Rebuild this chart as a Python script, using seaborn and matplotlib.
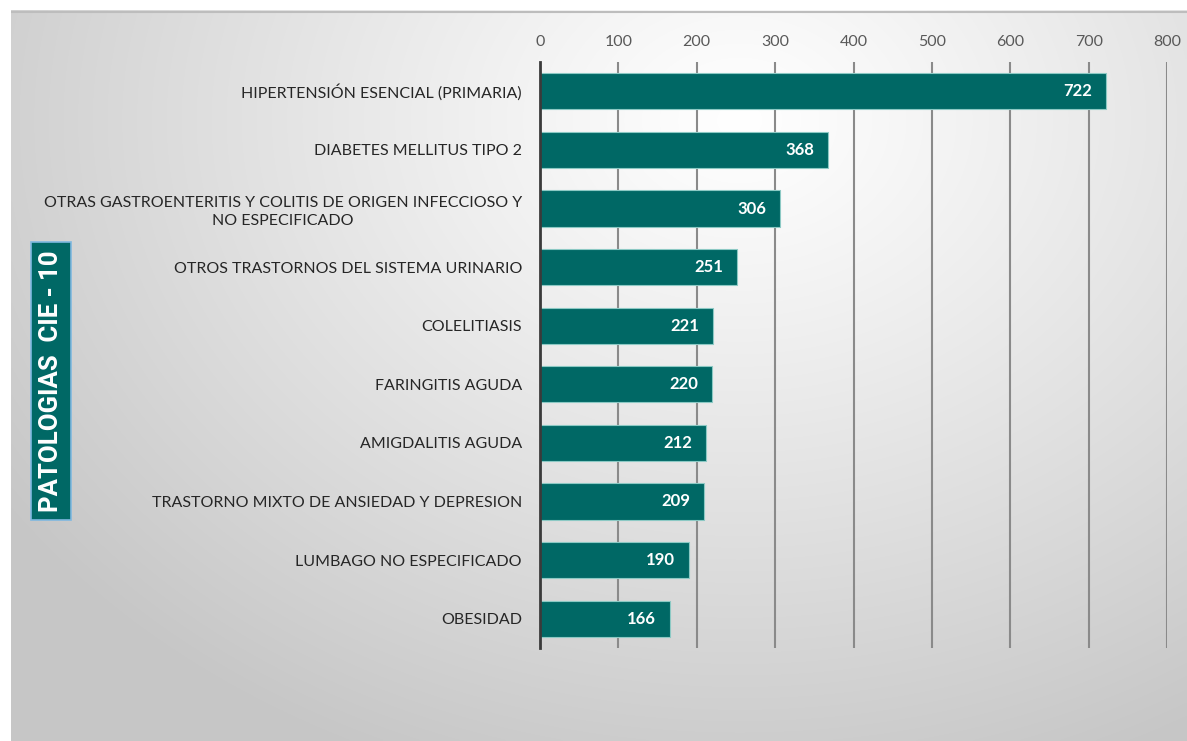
import numpy as np
import pandas as pd
import matplotlib
matplotlib.use("Agg")
import matplotlib.pyplot as plt
import seaborn as sns

categories = [
    "HIPERTENSIÓN ESENCIAL (PRIMARIA)",
    "DIABETES MELLITUS TIPO 2",
    "OTRAS GASTROENTERITIS Y COLITIS DE ORIGEN INFECCIOSO Y\nNO ESPECIFICADO",
    "OTROS TRASTORNOS DEL SISTEMA URINARIO",
    "COLELITIASIS",
    "FARINGITIS AGUDA",
    "AMIGDALITIS AGUDA",
    "TRASTORNO MIXTO DE ANSIEDAD Y DEPRESION",
    "LUMBAGO NO ESPECIFICADO",
    "OBESIDAD",
]
values = [722, 368, 306, 251, 221, 220, 212, 209, 190, 166]
x_ticks = [0, 100, 200, 300, 400, 500, 600, 700, 800]
axis_title = "PATOLOGIAS  CIE - 10"

df = pd.DataFrame({"patologia": categories, "casos": values})

sns.set_theme(style="white")
plt.rcParams["font.family"] = ["Lato", "DejaVu Sans"]

W, H = 1187, 741
fig = plt.figure(figsize=(W / 100, H / 100), dpi=100)
fig.patch.set_facecolor("white")

# background radial gradient frame
bg = fig.add_axes([11 / W, 0, 1 - 11 / W, 1 - 10 / H], zorder=-10)
gx = np.linspace(0, 1, 400)
gy = np.linspace(0, 1, 300)
XX, YY = np.meshgrid(gx, gy)
cx, cy = 0.62, 0.15
d = np.sqrt(((XX - cx) / 0.75) ** 2 + ((YY - cy) / 0.95) ** 2)
d = np.clip(d, 0, 1)
lum = 1.0 - 0.22 * d ** 1.1
img = np.dstack([lum, lum, lum])
bg.imshow(img, aspect="auto", extent=[0, 1, 1, 0], interpolation="bilinear")
bg.set_xlim(0, 1)
bg.set_ylim(1, 0)
bg.axis("off")
bg.plot([0, 1], [0.003, 0.003], color="#bdbdbd", lw=1.5)

ax = fig.add_axes([540 / W, 1 - 648 / H, (1167 - 540) / W, (648 - 62) / H])
ax.patch.set_alpha(0)

sns.barplot(data=df, x="casos", y="patologia", orient="h", color="#006865",
            width=0.62, saturation=1, edgecolor="#8cc9c4", linewidth=0.8, ax=ax)

ax.set_xlim(0, 800)
ax.set_xticks(x_ticks)
ax.xaxis.tick_top()
ax.tick_params(axis="x", length=0, pad=9, labelsize=11.5, labelcolor="#595959")
ax.tick_params(axis="y", length=0, pad=13, labelsize=11.5, labelcolor="#262626")
for lbl in ax.get_yticklabels():
    lbl.set_multialignment("center")
    lbl.set_linespacing(1.35)
ax.set_xlabel("")
ax.set_ylabel("")
ax.grid(axis="x", color="#8a8a8a", lw=1.5)
ax.set_axisbelow(True)
for s in ["top", "right", "bottom"]:
    ax.spines[s].set_visible(False)
ax.spines["left"].set_color("#3a3a3a")
ax.spines["left"].set_linewidth(2)
ax.spines["left"].set_zorder(5)

texts = ax.bar_label(ax.containers[0], padding=-10, color="white",
                     fontsize=12, fontweight="bold")
for t in texts:
    t.set_horizontalalignment("right")

fig.text(51 / W, 1 - 381 / H, axis_title, rotation=90, ha="center", va="center",
         color="white", fontsize=18.5, fontweight="bold",
         family=["Liberation Sans Narrow", "Roboto", "DejaVu Sans"],
         bbox=dict(boxstyle="square,pad=0.3", facecolor="#006865",
                   edgecolor="#7fb8e0", linewidth=1.2))

fig.savefig("out.png", dpi=100)
